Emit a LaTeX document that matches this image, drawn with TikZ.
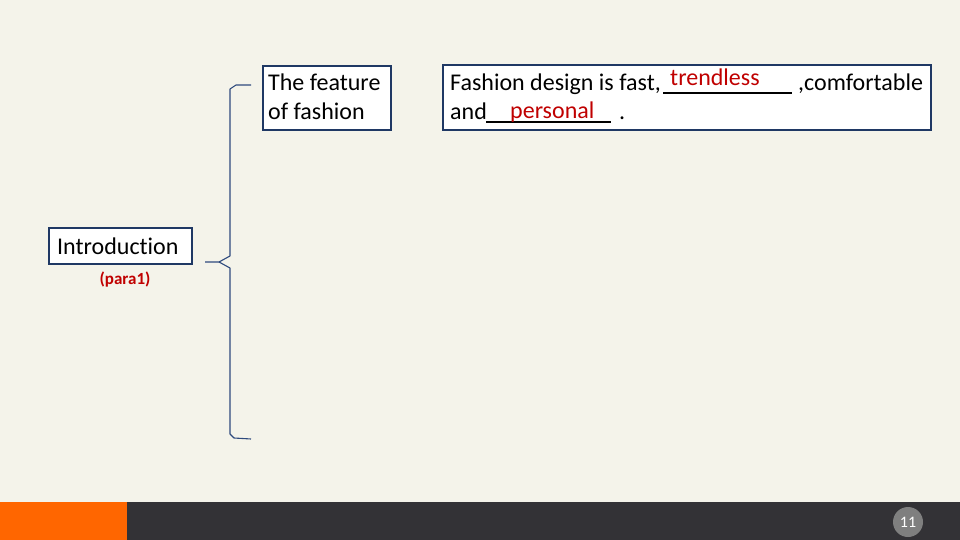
\documentclass[tikz,border=0pt]{standalone}
\usepackage{fontspec}
\setmainfont[Ligatures={NoCommon}]{Carlito}
\definecolor{bgc}{HTML}{F4F3EA}
\definecolor{navy}{HTML}{1F3864}
\definecolor{bracec}{HTML}{2E4A7D}
\definecolor{barc}{HTML}{333236}
\definecolor{orangec}{HTML}{FF6600}
\definecolor{redc}{HTML}{C00000}
\definecolor{circc}{HTML}{7F7F7F}
\tikzset{
  box/.style={draw=navy, line width=1.6pt, fill=white, inner sep=0pt},
  txt/.style={inner sep=0pt, anchor=base west, font=\fontsize{24}{29}\selectfont},
  redtxt/.style={txt, text=redc},
  blank/.style={line width=1.8pt, black},
  bracket/.style={draw=bracec, line width=1.1pt, line join=round}
}
\begin{document}
\begin{tikzpicture}[x=1pt,y=-1pt]
\useasboundingbox (0,0) rectangle (960,540);
\fill[bgc] (0,0) rectangle (960,540);
% bottom bar
\fill[barc] (0,502) rectangle (960,540);
\fill[orangec] (0,502) rectangle (127,540);
\node[circle, fill=circc, minimum size=30pt, inner sep=0pt, text=white, font=\fontsize{16}{16}\selectfont] (pg) at (908,522) {11};

% boxes
\node[box, minimum width=128pt, minimum height=64pt] (feat) at (327,98) {};
\node[box, minimum width=488pt, minimum height=65pt] (sent) at (687,97.5) {};
\node[box, minimum width=143pt, minimum height=36pt] (intro) at (120.5,246) {};

% feature text
\node[txt] (f1) at (268,91) {The feature};
\node[txt] (f2) at (268,120) {of fashion};

% sentence text
\node[txt] (s1) at (450,91) {Fashion design is fast,};
\coordinate (u1a) at (663,93);
\coordinate (u1b) at (792,93);
\draw[blank] (u1a) -- (u1b);
\node[redtxt] (w1) at (670,86) {trendless};
\node[txt] (s2) at (798,91) {,comfortable};
\node[txt] (s3) at (450,120) {and};
\coordinate (u2a) at (486,122);
\coordinate (u2b) at (611,122);
\draw[blank] (u2a) -- (u2b);
\node[redtxt] (w2) at (510,119) {personal};
\node[txt] (s4) at (619,120) {.};

% introduction text
\node[txt] (it) at (57,254) {Introduction};
\node[inner sep=0pt, text=redc, font=\fontsize{17}{17}\selectfont\bfseries] (para) at (125,280) {(para1)};

% bracket
\coordinate (bt) at (251,85);
\coordinate (bb) at (251,439);
\coordinate (tip) at (205,262);
\draw[bracket] (bt) -- (236,85) -- (230,89) -- (230,256) -- (219,262) -- (tip);
\draw[bracket] (219,262) -- (230,268) -- (230,434) -- (234,438) -- (bb);
\end{tikzpicture}
\end{document}
